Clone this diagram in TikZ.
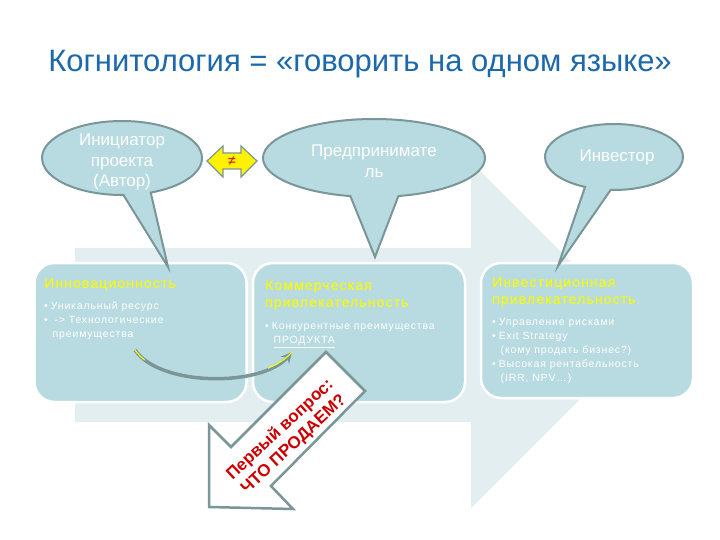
\documentclass[tikz,border=0pt]{standalone}
\usepackage{fontspec}
\setmainfont{Liberation Sans}
\newfontfamily\widefont[LetterSpace=8]{Liberation Sans}
\newfontfamily\headfont[LetterSpace=8,FakeBold=0.4]{Liberation Sans}
\usepackage{tikz}
\usetikzlibrary{shapes.callouts,arrows.meta}
\definecolor{titleblue}{RGB}{28,104,170}
\definecolor{boxfill}{RGB}{183,219,224}
\definecolor{bgarrow}{RGB}{227,238,241}
\definecolor{bubbleline}{RGB}{122,150,152}
\definecolor{headyellow}{RGB}{245,248,20}
\definecolor{warnred}{RGB}{204,0,0}

\begin{document}
\begin{tikzpicture}[x=1pt,y=-1pt,
	box/.style={draw=white, line width=2.5pt, fill=boxfill, rounded corners=20pt, minimum width=212pt, minimum height=139pt, inner sep=0pt},
	bubble/.style={ellipse callout, draw=bubbleline, line width=2pt, fill=boxfill, inner sep=0pt},
	bubbletext/.style={text=white, font=\fontsize{17}{20.5}\selectfont, align=center, inner sep=0pt},
	heading/.style={text=headyellow, font=\headfont\fontsize{14}{17}\selectfont, align=left, anchor=north west, inner sep=0pt},
	items/.style={text=white, font=\widefont\fontsize{10.5}{14}\selectfont, align=left, anchor=north west, inner sep=0pt}
]
\fill[white] (0,0) rectangle (720,540);
\useasboundingbox (0,0) rectangle (720,540);
\fill[bgarrow] (75,248) -- (471,248) -- (471,162) -- (644,335) -- (471,508) -- (471,422) -- (75,422) -- cycle;

\node[box] (1) at (140.5,332.5) {};
\node[box] (2) at (359,332.5) {};
\node[box, minimum height=135pt] (3) at (587,330.5) {};

\node[heading] (1h) at (44,278) {Инновационность};
\node[items] (1i) at (44,302) {\textbullet\hspace{3pt}Уникальный ресурс\\ \textbullet\hspace{3pt}\ -> Технологические\\ \hspace{8.5pt}преимущества};
\node[heading] (2h) at (265,280) {Коммерческая\\привлекательность};
\node[items] (2i) at (265,322) {\textbullet\hspace{3pt}Конкурентные преимущества\\ \hspace{8.5pt}\underline{ПРОДУКТА}};
\node[heading] (3h) at (492,277) {Инвестиционная\\привлекательность};
\node[items] (3i) at (492,318) {\textbullet\hspace{3pt}Управление рисками\\ \textbullet\hspace{3pt}Exit Strategy\\ \hspace{8.5pt}(кому продать бизнес?)\\ \textbullet\hspace{3pt}Высокая рентабельность\\ \hspace{8.5pt}(IRR, NPV…)};

\node[bubble, minimum width=160pt, minimum height=74pt, callout absolute pointer={(168,267)}, callout pointer arc=20] (4) at (122,158) {};
\node[bubbletext] (5) at (122,162) {Инициатор\\проекта\\(Автор)};
\node[bubble, minimum width=222pt, minimum height=78pt, callout absolute pointer={(375,257)}, callout pointer arc=25] (6) at (374,158) {};
\node[bubbletext] (7) at (374,161) {Предпринимате\\ль};
\node[bubble, minimum width=138pt, minimum height=66pt, callout absolute pointer={(558,266)}, callout pointer arc=22] (8) at (614,157) {};
\node[bubbletext] (9) at (617,157.5) {Инвестор};

\draw[bubbleline, line width=1.2pt, fill=yellow, line join=miter] (207,161) -- (223,146) -- (223,153) -- (241,153) -- (241,146) -- (257,161) -- (241,177) -- (241,169) -- (223,169) -- (223,177) -- cycle;
\node[text=warnred, font=\fontsize{14}{14}\selectfont, inner sep=0pt] (10) at (232,161) {≠};

\coordinate (11) at (135,350);
\coordinate (12) at (292,352);
\draw[bubbleline, line width=3.5pt, -{Stealth[length=11pt, width=11pt, fill=headyellow]}] (11) .. controls (160,387) and (262,387) .. (12);
\draw[headyellow, line width=1.2pt, dash pattern=on 14pt off 128pt on 30pt] (11) .. controls (160,387) and (262,387) .. (12);

\draw[bubbleline, line width=2.5pt, fill=white, line join=miter] (209,507) -- (209,425) -- (231,447) -- (326,352) -- (365,391) -- (271,486) -- (293,509) -- cycle;
\node[text=warnred, font=\bfseries\fontsize{17}{20}\selectfont, align=center, rotate=43] (13) at (287,437) {Первый вопрос:\\ЧТО ПРОДАЕМ?};

\node[text=titleblue, font=\fontsize{31}{36}\selectfont, anchor=base] (0) at (360,72) {Когнитология = «говорить на одном языке»};
\end{tikzpicture}
\end{document}
